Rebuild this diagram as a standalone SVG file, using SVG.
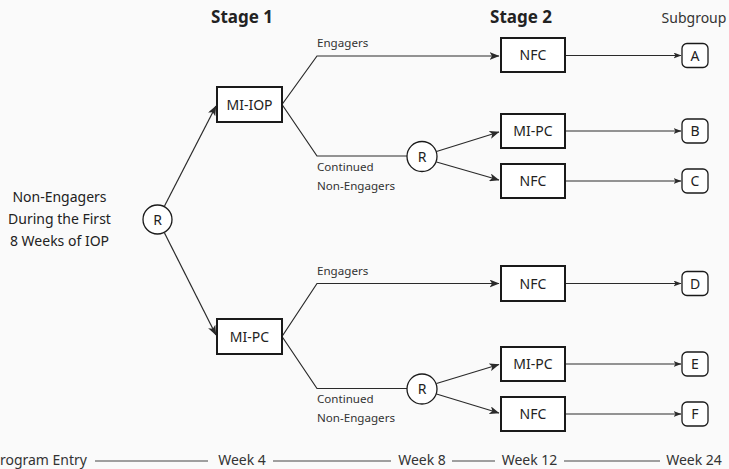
<svg xmlns="http://www.w3.org/2000/svg" width="729" height="469" viewBox="0 0 729 469">
  <style>
    text { font-family: "Noto Sans", "Open Sans", sans-serif; fill: #222; }
    .lbl { font-size: 14px; text-anchor: middle; }
    .hdr { font-size: 17px; font-weight: bold; text-anchor: middle; }
    .sub { font-size: 14px; text-anchor: middle; fill: #333; }
    .sm { font-size: 11.6px; fill: #333; }
    .tl { font-size: 14px; fill: #333; }
    .box { fill: #fff; stroke: #1a1a1a; stroke-width: 2; }
    .grp { fill: #fff; stroke: #1a1a1a; stroke-width: 1.3; }
    .rnd { fill: #fff; stroke: #1a1a1a; stroke-width: 1.3; }
    .edge { fill: none; stroke: #2a2a2a; stroke-width: 1.2; }
    .arr { marker-end: url(#head); }
    .arrs { marker-end: url(#headSmall); }
    .axis { stroke: #444; stroke-width: 1; }
  </style>
  <defs>
    <marker id="head" viewBox="0 0 10 8" refX="9.5" refY="4" markerWidth="10" markerHeight="8" markerUnits="userSpaceOnUse" orient="auto">
      <path d="M0,0 L10,4 L0,8 L2.5,4 z" fill="#2a2a2a"/>
    </marker>
    <marker id="headSmall" viewBox="0 0 8 6" refX="7.5" refY="3" markerWidth="8" markerHeight="6" markerUnits="userSpaceOnUse" orient="auto">
      <path d="M0,0 L8,3 L0,6 L2,3 z" fill="#2a2a2a"/>
    </marker>
  </defs>

  <rect width="729" height="469" fill="#fafafa"/>

  <!-- column headers -->
  <text class="hdr" x="242" y="23">Stage 1</text>
  <text class="hdr" x="521" y="23">Stage 2</text>
  <text class="sub" x="694" y="23">Subgroup</text>

  <!-- population description -->
  <g id="population">
    <text class="lbl" x="59.5" y="202">Non-Engagers</text>
    <text class="lbl" x="59.5" y="224">During the First</text>
    <text class="lbl" x="59.5" y="246">8 Weeks of IOP</text>
  </g>

  <!-- connectors -->
  <g id="connectors">
    <!-- first randomisation -->
    <path class="edge arr" d="M164.5,206 L216,106"/>
    <path class="edge arr" d="M164.5,233 L216,335"/>

    <!-- MI-IOP branches -->
    <path class="edge arr" d="M282,104.5 L317,56 L499,56"/>
    <path class="edge" d="M282,104.5 L317,156 L407,156"/>
    <path class="edge arr" d="M436.5,151.5 L499,132"/>
    <path class="edge arr" d="M436.5,162 L499,180"/>

    <!-- MI-PC branches -->
    <path class="edge arr" d="M282,336.5 L317,283.5 L499,283.5"/>
    <path class="edge" d="M282,336.5 L317,388.5 L407,388.5"/>
    <path class="edge arr" d="M436.5,383.5 L499,364.5"/>
    <path class="edge arr" d="M436.5,394 L499,413"/>

    <!-- to subgroups -->
    <path class="edge arrs" d="M565,55.5 L681,55.5"/>
    <path class="edge arrs" d="M565,131 L681,131"/>
    <path class="edge arrs" d="M565,181 L681,181"/>
    <path class="edge arrs" d="M565,283.5 L681,283.5"/>
    <path class="edge arrs" d="M565,364 L681,364"/>
    <path class="edge arrs" d="M565,414 L681,414"/>
  </g>

  <!-- branch labels -->
  <text class="sm" x="317" y="47">Engagers</text>
  <text class="sm" x="317" y="171">Continued</text>
  <text class="sm" x="317" y="190">Non-Engagers</text>
  <text class="sm" x="317" y="275">Engagers</text>
  <text class="sm" x="317" y="403">Continued</text>
  <text class="sm" x="317" y="422">Non-Engagers</text>

  <!-- randomisation points -->
  <g id="rand0">
    <circle class="rnd" cx="157.5" cy="219.5" r="14.5"/>
    <text class="lbl" x="157.5" y="224.5">R</text>
  </g>
  <g id="rand1">
    <circle class="rnd" cx="422" cy="156.5" r="15"/>
    <text class="lbl" x="422" y="161.5">R</text>
  </g>
  <g id="rand2">
    <circle class="rnd" cx="422" cy="389" r="15"/>
    <text class="lbl" x="422" y="394">R</text>
  </g>

  <!-- stage 1 treatments -->
  <g id="miiop">
    <rect class="box" x="217" y="87" width="65" height="35"/>
    <text class="lbl" x="249.5" y="109.5">MI-IOP</text>
  </g>
  <g id="mipc1">
    <rect class="box" x="217" y="319" width="65" height="35"/>
    <text class="lbl" x="249.5" y="341.5">MI-PC</text>
  </g>

  <!-- stage 2 treatments -->
  <g id="nfcA">
    <rect class="box" x="501" y="38" width="64" height="34"/>
    <text class="lbl" x="533" y="60">NFC</text>
  </g>
  <g id="mipcB">
    <rect class="box" x="501" y="114" width="64" height="34"/>
    <text class="lbl" x="533" y="136">MI-PC</text>
  </g>
  <g id="nfcC">
    <rect class="box" x="501" y="164" width="64" height="34"/>
    <text class="lbl" x="533" y="186">NFC</text>
  </g>
  <g id="nfcD">
    <rect class="box" x="501" y="266" width="64" height="35"/>
    <text class="lbl" x="533" y="288.5">NFC</text>
  </g>
  <g id="mipcE">
    <rect class="box" x="501" y="347" width="64" height="34"/>
    <text class="lbl" x="533" y="369">MI-PC</text>
  </g>
  <g id="nfcF">
    <rect class="box" x="501" y="397" width="64" height="34"/>
    <text class="lbl" x="533" y="419">NFC</text>
  </g>

  <!-- subgroups -->
  <g id="subA">
    <rect class="grp" x="682" y="43.5" width="26" height="24" rx="5"/>
    <text class="lbl" x="695" y="60.5">A</text>
  </g>
  <g id="subB">
    <rect class="grp" x="682" y="119" width="26" height="24" rx="5"/>
    <text class="lbl" x="695" y="136">B</text>
  </g>
  <g id="subC">
    <rect class="grp" x="682" y="169" width="26" height="24" rx="5"/>
    <text class="lbl" x="695" y="186">C</text>
  </g>
  <g id="subD">
    <rect class="grp" x="682" y="271.5" width="26" height="24" rx="5"/>
    <text class="lbl" x="695" y="288.5">D</text>
  </g>
  <g id="subE">
    <rect class="grp" x="682" y="352" width="26" height="24" rx="5"/>
    <text class="lbl" x="695" y="369">E</text>
  </g>
  <g id="subF">
    <rect class="grp" x="682" y="402" width="26" height="24" rx="5"/>
    <text class="lbl" x="695" y="419">F</text>
  </g>

  <!-- timeline -->
  <g id="timeline">
    <text class="tl" x="87" y="465" text-anchor="end">Program Entry</text>
    <line class="axis" x1="95" y1="461" x2="208" y2="461"/>
    <text class="tl" x="242" y="465" text-anchor="middle">Week 4</text>
    <line class="axis" x1="273" y1="461" x2="391" y2="461"/>
    <text class="tl" x="422" y="465" text-anchor="middle">Week 8</text>
    <line class="axis" x1="452" y1="461" x2="495" y2="461"/>
    <text class="tl" x="529.5" y="465" text-anchor="middle">Week 12</text>
    <line class="axis" x1="564" y1="461" x2="660" y2="461"/>
    <text class="tl" x="694" y="465" text-anchor="middle">Week 24</text>
  </g>
</svg>
